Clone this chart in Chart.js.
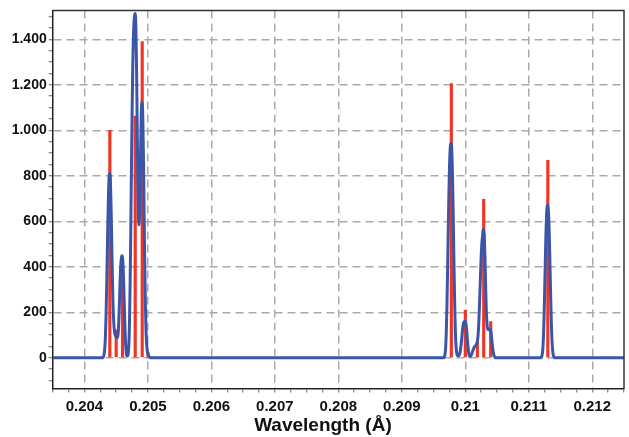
<!DOCTYPE html>
<html>
<head>
<meta charset="utf-8">
<script src="https://cdn.jsdelivr.net/npm/chart.js@4.4.1/dist/chart.umd.min.js"></script>
<style>
  html, body { margin: 0; padding: 0; background: #fff; }
  #wrap { width: 629px; height: 437px; }
</style>
</head>
<body>
<div id="wrap"><canvas id="spectrum" width="629" height="437"></canvas></div>
<script>
// stick lines (red)
const lineWavelength = [0.2044, 0.2045, 0.2046, 0.2048, 0.20491, 0.205, 0.20978, 0.21, 0.21019, 0.21029, 0.2104, 0.2113];
const lineIntensity  = [1000, 122, 400, 1063, 1390, 25, 1205, 209, 68, 696, 159, 868];

// convolved profile (blue)
const profileWavelength = [
  0.2035,
  0.20428, 0.20429, 0.2043, 0.20431, 0.20432, 0.20433, 0.20434, 0.20435, 0.20436, 0.20437,
  0.20438, 0.20439, 0.2044, 0.20441, 0.20442, 0.20443, 0.20444, 0.20445, 0.20446, 0.20447,
  0.20448, 0.20449, 0.2045, 0.20451, 0.20452, 0.20453, 0.20454, 0.20455, 0.20456, 0.20457,
  0.20458, 0.20459, 0.2046, 0.20461, 0.20462, 0.20463, 0.20464, 0.20465, 0.20466, 0.20467,
  0.20468, 0.20469, 0.2047, 0.20471, 0.20472, 0.20473, 0.20474, 0.20475, 0.20476, 0.20477,
  0.20478, 0.20479, 0.2048, 0.20481, 0.20482, 0.20483, 0.20484, 0.20485, 0.20486, 0.20487,
  0.20488, 0.20489, 0.2049, 0.20491, 0.20492, 0.20493, 0.20494, 0.20495, 0.20496, 0.20497,
  0.20498, 0.20499, 0.205, 0.20501, 0.20502, 0.20503, 0.20504,
  0.20966, 0.20967, 0.20968, 0.20969, 0.2097, 0.20971, 0.20972, 0.20973, 0.20974, 0.20975,
  0.20976, 0.20977, 0.20978, 0.20979, 0.2098, 0.20981, 0.20982, 0.20983, 0.20984, 0.20985,
  0.20986, 0.20987, 0.20988, 0.20989, 0.2099, 0.20991, 0.20992, 0.20993, 0.20994, 0.20995,
  0.20996, 0.20997, 0.20998, 0.20999, 0.21, 0.21001, 0.21002, 0.21003, 0.21004, 0.21005,
  0.21006, 0.21007, 0.21008, 0.21009, 0.2101, 0.21011, 0.21012, 0.21013, 0.21014, 0.21015,
  0.21016, 0.21017, 0.21018, 0.21019, 0.2102, 0.21021, 0.21022, 0.21023, 0.21024, 0.21025,
  0.21026, 0.21027, 0.21028, 0.21029, 0.2103, 0.21031, 0.21032, 0.21033, 0.21034, 0.21035,
  0.21036, 0.21037, 0.21038, 0.21039, 0.2104, 0.21041, 0.21042, 0.21043, 0.21044, 0.21045,
  0.21046, 0.21047, 0.21048,
  0.21119, 0.2112, 0.21121, 0.21122, 0.21123, 0.21124, 0.21125, 0.21126, 0.21127, 0.21128,
  0.21129, 0.2113, 0.21131, 0.21132, 0.21133, 0.21134, 0.21135, 0.21136, 0.21137, 0.21138,
  0.21139, 0.2114, 0.21141,
  0.2125
];
const profileIntensity = [
  0,
  0, 1, 5, 15, 40, 90, 180, 310, 460, 610,
  730, 800, 810, 770, 660, 510, 360, 240, 165, 125,
  105, 97, 92, 88, 90, 105, 150, 230, 320, 395,
  435, 448, 440, 395, 310, 210, 120, 55, 20, 8,
  8, 20, 60, 160, 330, 560, 820, 1060, 1260, 1400,
  1470, 1505, 1513, 1460, 1300, 1050, 800, 630, 585, 650,
  820, 1000, 1110, 1123, 1050, 880, 650, 420, 240, 120,
  60, 30, 18, 10, 5, 2, 0,
  0, 4, 15, 45, 110, 220, 370, 540, 700, 830,
  910, 940, 942, 890, 780, 620, 440, 280, 150, 70,
  30, 14, 10, 9, 10, 16, 28, 48, 75, 105,
  132, 150, 157, 159, 159, 150, 125, 90, 55, 28,
  12, 6, 6, 10, 16, 24, 32, 40, 46, 50,
  53, 56, 62, 72, 95, 140, 205, 285, 370, 445,
  500, 530, 560, 565, 530, 440, 320, 215, 155, 130,
  124, 123, 124, 125, 120, 100, 72, 45, 25, 12,
  5, 1, 0,
  0, 3, 12, 35, 85, 170, 290, 420, 540, 625,
  665, 672, 640, 570, 460, 330, 210, 115, 55, 22,
  8, 2, 0,
  0
];

const xMajorTicks = [0.204, 0.205, 0.206, 0.207, 0.208, 0.209, 0.21, 0.211, 0.212];
const yMajorTicks = [0, 200, 400, 600, 800, 1000, 1200, 1400];
const xTitle = 'Wavelength (Å)';

const FONT = "'Liberation Sans', Arial, Helvetica, sans-serif";

function isMajorX(v) {
  return xMajorTicks.some(t => Math.abs(t - v) < 1e-7);
}
function isMajorY(v) {
  return yMajorTicks.some(t => Math.abs(t - v) < 1e-6);
}
function fmtY(v) {
  if (v >= 1000) return Math.floor(v / 1000) + '.' + String(v % 1000).padStart(3, '0');
  return String(v);
}

// top + right border of the plot box, and the x title (sits a bit left of centre in the original)
const frame = {
  id: 'frame',
  afterDraw(chart) {
    const {ctx, chartArea: a} = chart;
    ctx.save();
    ctx.strokeStyle = '#333';
    ctx.lineWidth = 1.5;
    ctx.beginPath();
    ctx.moveTo(a.left, a.top);
    ctx.lineTo(a.right, a.top);
    ctx.lineTo(a.right, a.bottom);
    ctx.stroke();

    ctx.fillStyle = '#111';
    ctx.font = 'bold 19px ' + FONT;
    ctx.textAlign = 'center';
    ctx.textBaseline = 'alphabetic';
    ctx.fillText(xTitle, a.left + (a.right - a.left) * 0.473, a.bottom + 42.2);
    ctx.restore();
  }
};

const profilePoints = profileWavelength.map((w, i) => ({x: w, y: profileIntensity[i]}));
const linePoints = lineWavelength.map((w, i) => ({x: w, y: lineIntensity[i]}));

new Chart(document.getElementById('spectrum'), {
  type: 'line',
  data: {
    datasets: [
      {
        type: 'line',
        data: profilePoints,
        borderColor: 'rgb(59, 86, 168)',
        borderWidth: 3,
        pointRadius: 0,
        cubicInterpolationMode: 'monotone',
        fill: false,
        order: 0
      },
      {
        type: 'bar',
        data: linePoints,
        backgroundColor: 'rgb(240, 52, 38)',
        barThickness: 2.5,
        order: 1
      }
    ]
  },
  options: {
    responsive: false,
    animation: false,
    layout: { padding: { left: 0, right: 3.5, top: 5, bottom: 0 } },
    plugins: {
      legend: { display: false },
      tooltip: { enabled: false }
    },
    scales: {
      x: {
        type: 'linear',
        min: 0.2035,
        max: 0.2125,
        offset: false,
        afterFit(scale) { scale.height = 48.5; },
        ticks: {
          stepSize: 0.00025,
          includeBounds: false,
          autoSkip: false,
          maxRotation: 0,
          padding: 5,
          color: '#111',
          font: { family: FONT, size: 15, weight: 'bold' },
          callback: v => isMajorX(v) ? String(parseFloat(v.toFixed(3))) : ''
        },
        grid: {
          offset: false,
          color: c => (c.tick && isMajorX(c.tick.value)) ? '#aaaaaa' : 'rgba(0,0,0,0)',
          lineWidth: 1.5,
          tickColor: '#666',
          tickLength: 4,
          tickWidth: 1
        },
        border: { color: '#222', width: 1.5, dash: [8, 5] }
      },
      y: {
        type: 'linear',
        min: -135,
        max: 1527,
        afterFit(scale) { scale.width = 52.7; },
        ticks: {
          stepSize: 50,
          includeBounds: false,
          autoSkip: false,
          padding: 2,
          color: '#111',
          font: { family: FONT, size: 14, weight: 'bold' },
          callback: v => isMajorY(v) ? fmtY(v) : ''
        },
        grid: {
          offset: false,
          color: c => (c.tick && isMajorY(c.tick.value)) ? '#aaaaaa' : 'rgba(0,0,0,0)',
          lineWidth: 1.5,
          tickColor: '#666',
          tickLength: 4,
          tickWidth: 1
        },
        border: { color: '#222', width: 1.5, dash: [8, 5] }
      }
    }
  },
  plugins: [frame]
});
</script>
</body>
</html>
